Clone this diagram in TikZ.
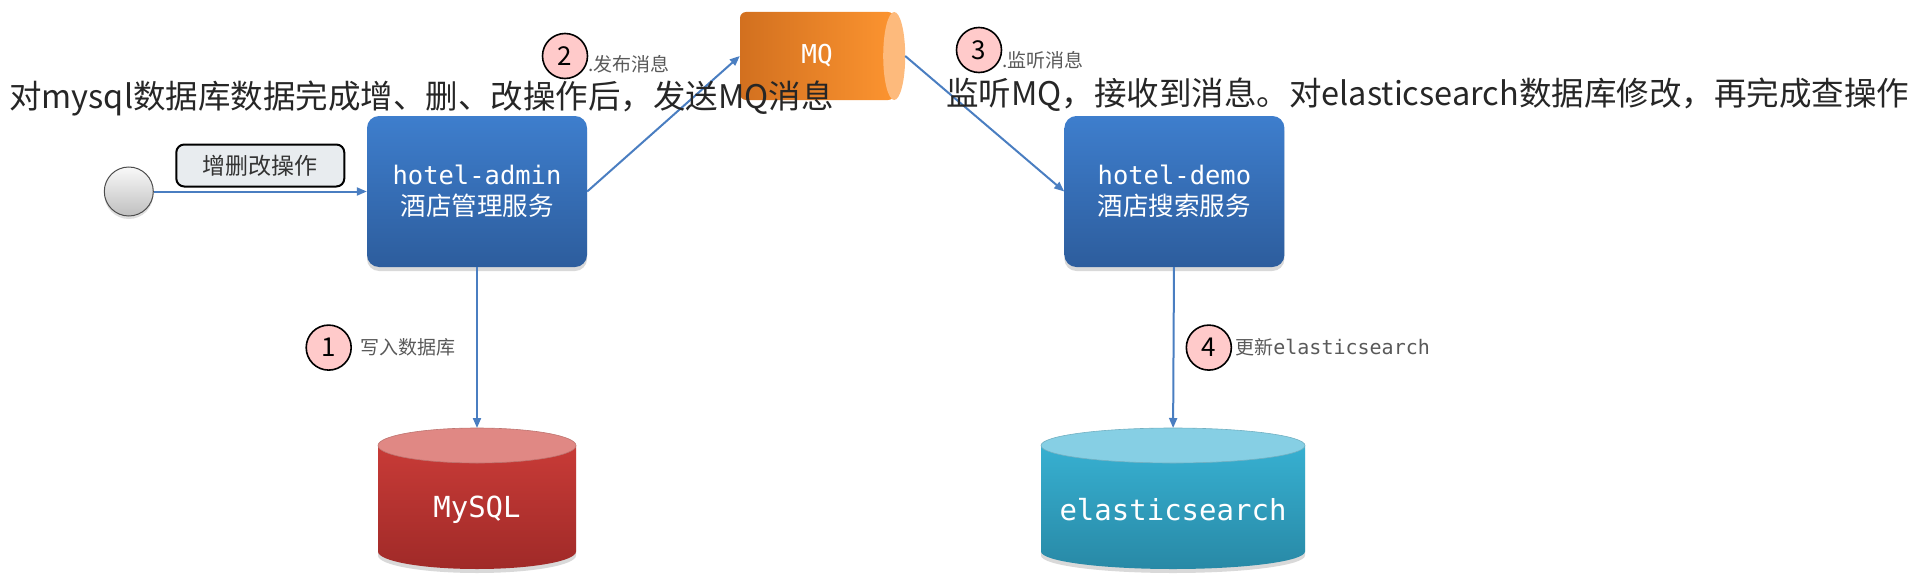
\documentclass[tikz,border=0pt]{standalone}
\usepackage{fontspec}
\setmonofont{DejaVu Sans Mono}
\newfontfamily\cjk{Noto Sans CJK SC}
\usepackage{xcolor}
\usepackage{tikz}
\usetikzlibrary{positioning,arrows.meta,shapes.geometric,shadows,backgrounds}

\definecolor{flowblue}{HTML}{4A7EC1}
\definecolor{boxtop}{HTML}{3E7ECD}
\definecolor{boxbot}{HTML}{2D5D9D}
\definecolor{mqleft}{HTML}{D2701F}
\definecolor{mqright}{HTML}{FC9430}
\definecolor{mqend}{HTML}{FDBA7C}
\definecolor{mysqlA}{HTML}{C83B37}
\definecolor{mysqlB}{HTML}{A02A28}
\definecolor{mysqlcap}{HTML}{E08884}
\definecolor{esA}{HTML}{37B0D1}
\definecolor{esB}{HTML}{2889A6}
\definecolor{escap}{HTML}{86CFE4}
\definecolor{badgepink}{HTML}{FFCACA}
\definecolor{labelgray}{HTML}{595959}
\definecolor{opfill}{HTML}{E8ECEF}

\tikzset{
  flow/.style={draw=flowblue, line width=2pt, -{Triangle[length=10pt,width=8pt]}},
  service/.style={rectangle, rounded corners=12pt, minimum width=220pt, minimum height=151pt,
    top color=boxtop, bottom color=boxbot, text=white, align=center,
    font=\fontsize{25.5}{31}\selectfont,
    drop shadow={shadow xshift=0pt, shadow yshift=-4pt, opacity=.3}},
  startdot/.style={circle, minimum size=49pt, top color=gray!5, bottom color=gray!50,
    draw=gray!60!black, line width=1pt,
    drop shadow={shadow xshift=0pt, shadow yshift=-3pt, opacity=.25}},
  oplabel/.style={rectangle, rounded corners=8pt, draw=black, line width=2pt, fill=opfill,
    minimum width=168pt, minimum height=42pt, inner sep=0pt, text=black!80,
    font=\cjk\fontsize{23}{26}\selectfont},
  mqbody/.style={rectangle, rounded corners=6pt, minimum width=154pt, minimum height=88pt,
    left color=mqleft, right color=mqright, text=white,
    font=\ttfamily\fontsize{26}{30}\selectfont},
  mqcap/.style={ellipse, minimum width=22pt, minimum height=88pt, inner sep=0pt, outer sep=0pt,
    fill=mqend},
  dbcap/.style={ellipse, minimum width=198pt, minimum height=35pt, inner sep=0pt, outer sep=0pt},
  dbtext/.style={text=white, font=\ttfamily\fontsize{29}{32}\selectfont},
  badge/.style={circle, minimum size=45pt, inner sep=0pt, fill=badgepink, draw=black,
    line width=1.6pt, font=\cjk\fontsize{26}{26}\selectfont},
  steptext/.style={inner sep=0pt, text=labelgray, font=\cjk\fontsize{19}{20}\selectfont},
  title/.style={inner sep=0pt, anchor=west, text=black!85, font=\cjk\fontsize{32.5}{36}\selectfont}
}

\begin{document}
\begin{tikzpicture}[x=1pt,y=1pt]
  \useasboundingbox (0,0) rectangle (1910,-578);

  % services
  \node[service] (admin) at (477,-191.5) {{\ttfamily hotel-admin}\\{\cjk 酒店管理服务}};
  \node[service,right=477pt of admin] (demo) {{\ttfamily hotel-demo}\\{\cjk 酒店搜索服务}};
  \node[startdot,left=213pt of admin] (start) {};

  % message queue
  \node[mqbody] (mq) at (817,-56) {MQ};
  \node[mqcap] (mqcapnode) at (mq.east) {};

  % databases
  \node[dbcap,fill=mysqlcap,draw=mysqlcap!85!black,line width=.6pt] (mysqltop) at (477,-445.5) {};
  \node[dbtext] (mysql) at ([yshift=-64.5pt]mysqltop.center) {MySQL};
  \node[dbcap,fill=escap,draw=escap!85!black,line width=.6pt,minimum width=264pt] (estop) at (1173,-445.5) {};
  \node[dbtext] (es) at ([yshift=-64pt]estop.center) {elasticsearch};

  \begin{scope}[on background layer]
    \fill[black,opacity=.15] ([yshift=-4pt]mysqltop.west) -- ++(0,-106) arc[start angle=180,end angle=360,x radius=99pt,y radius=17.5pt] -- ([yshift=-4pt]mysqltop.east) -- cycle;
    \shade[top color=mysqlA,bottom color=mysqlB] (mysqltop.west) -- ++(0,-106) arc[start angle=180,end angle=360,x radius=99pt,y radius=17.5pt] -- (mysqltop.east) -- cycle;
    \fill[black,opacity=.15] ([yshift=-4pt]estop.west) -- ++(0,-106) arc[start angle=180,end angle=360,x radius=132pt,y radius=17.5pt] -- ([yshift=-4pt]estop.east) -- cycle;
    \shade[top color=esA,bottom color=esB] (estop.west) -- ++(0,-106) arc[start angle=180,end angle=360,x radius=132pt,y radius=17.5pt] -- (estop.east) -- cycle;
  \end{scope}

  % connectors
  \draw[flow] (start) -- (admin) node[oplabel,midway,above=4pt] (op) {增删改操作};
  \draw[flow] (admin.east) -- (mq.west);
  \draw[flow] (mqcapnode.east) -- (demo.west);
  \draw[flow] (admin) -- (mysqltop) node[steptext,midway,left=21pt] (w1) {写入数据库};
  \draw[flow] (demo) -- (estop) node[badge,midway,right=12pt] (b4) {4};

  % steps
  \node[badge,left=7pt of w1] (b1) {1};
  \node[steptext,right=3pt of b4] (w4) {更新{\ttfamily\fontsize{20}{20}\selectfont elasticsearch}};
  \node[badge] (b2) at (565,-56) {2};
  \node[steptext,right=0pt of b2,yshift=-8pt] (w2) {.发布消息};
  \node[badge] (b3) at (979,-50) {3};
  \node[steptext,right=0pt of b3,yshift=-10pt] (w3) {.监听消息};

  % notes
  \node[title] (ltitle) at (9,-98) {对mysql数据库数据完成增、删、改操作后，发送MQ消息};
  \node[title] (rtitle) at (946,-95) {监听MQ，接收到消息。对elasticsearch数据库修改，再完成查操作};
\end{tikzpicture}
\end{document}
